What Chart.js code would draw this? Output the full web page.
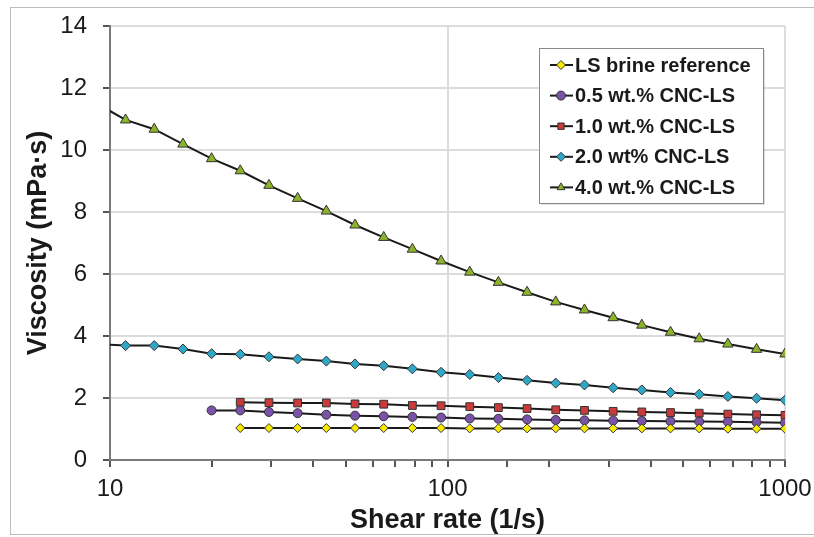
<!DOCTYPE html>
<html>
<head>
<meta charset="utf-8">
<script src="https://cdn.jsdelivr.net/npm/chart.js@4"></script>
<style>
  html, body { margin: 0; padding: 0; background: #fff; }
  #wrap { width: 814px; height: 537px; }
</style>
</head>
<body>
<div id="wrap"><canvas id="viscChart" width="814" height="537"></canvas></div>
<script>
// Shear rate values (1/s), shared by all series
const shearRate = [9.15, 11.12, 13.52, 16.45, 20, 24.32, 29.58, 35.97, 43.75, 53.21, 64.71, 78.69,
  95.7, 116.4, 141.5, 172.1, 209.3, 254.6, 309.6, 376.5, 457.9, 556.9, 677.3, 823.7, 1000];

const brineRef = [null, null, null, null, null, 1.03, 1.03, 1.03, 1.03, 1.03, 1.03, 1.03, 1.03,
  1.02, 1.02, 1.02, 1.02, 1.02, 1.02, 1.02, 1.02, 1.02, 1.01, 1.01, 1.01];
const cnc05 = [null, null, null, null, 1.60, 1.60, 1.55, 1.51, 1.46, 1.43, 1.41, 1.39, 1.37,
  1.34, 1.33, 1.31, 1.29, 1.28, 1.27, 1.26, 1.25, 1.24, 1.23, 1.22, 1.20];
const cnc10 = [null, null, null, null, null, 1.86, 1.85, 1.84, 1.84, 1.81, 1.80, 1.76, 1.75,
  1.72, 1.69, 1.66, 1.62, 1.60, 1.57, 1.55, 1.53, 1.51, 1.48, 1.46, 1.44];
const cnc20 = [3.74, 3.69, 3.69, 3.58, 3.43, 3.41, 3.33, 3.26, 3.19, 3.10, 3.04, 2.94, 2.83,
  2.76, 2.66, 2.57, 2.48, 2.42, 2.33, 2.26, 2.18, 2.12, 2.05, 1.99, 1.93];
const cnc40 = [11.5, 10.97, 10.67, 10.19, 9.72, 9.33, 8.86, 8.44, 8.03, 7.58, 7.18, 6.80, 6.42,
  6.06, 5.73, 5.41, 5.10, 4.84, 4.59, 4.35, 4.12, 3.91, 3.74, 3.57, 3.42];

const seriesLabels = ["LS brine reference", "0.5 wt.% CNC-LS", "1.0 wt.% CNC-LS", "2.0 wt% CNC-LS", "4.0 wt.% CNC-LS"];
const xTickLabels = [10, 100, 1000];

const FONT = "'Liberation Sans', Arial, sans-serif";

function toPoints(values) {
  return shearRate.map((x, i) => ({ x: x, y: values[i] }));
}

function makeSet(label, values, style, fill, radius) {
  return {
    label: label,
    data: toPoints(values),
    borderColor: "#1a1a1a",
    borderWidth: 2,
    pointStyle: style,
    pointRadius: radius,
    pointBackgroundColor: fill,
    pointBorderColor: "#333",
    pointBorderWidth: 1,
    tension: 0,
    spanGaps: false,
  };
}

// Legend box drawn inside the plot like the original figure
const boxLegend = {
  id: "boxLegend",
  afterDraw(chart) {
    const ctx = chart.ctx;
    const left = 539, top = 48, w = 224, h = 155;
    ctx.save();
    ctx.fillStyle = "rgba(0,0,0,0.12)";
    ctx.fillRect(left + 2, top + 2, w, h);
    ctx.fillStyle = "#fff";
    ctx.fillRect(left, top, w, h);
    ctx.strokeStyle = "#8a8a8a";
    ctx.lineWidth = 1;
    ctx.strokeRect(left + 0.5, top + 0.5, w, h);
    chart.data.datasets.forEach((ds, i) => {
      const y = 65 + i * 30.6;
      ctx.strokeStyle = ds.borderColor;
      ctx.lineWidth = 2;
      ctx.beginPath();
      ctx.moveTo(550, y);
      ctx.lineTo(573, y);
      ctx.stroke();
      ctx.fillStyle = ds.pointBackgroundColor;
      ctx.strokeStyle = ds.pointBorderColor;
      ctx.lineWidth = 1;
      Chart.helpers.drawPoint(ctx, {
        pointStyle: ds.pointStyle,
        radius: Math.min(ds.pointRadius, 4.5),
        rotation: 0,
        borderWidth: 1,
      }, 561, y);
      ctx.fillStyle = "#1a1a1a";
      ctx.font = "bold 20px " + FONT;
      ctx.textBaseline = "middle";
      ctx.textAlign = "left";
      ctx.fillText(ds.label, 575, y + 1);
    });
    ctx.restore();
  },
};

// Light frame around the whole figure
const frame = {
  id: "frame",
  beforeDraw(chart) {
    const ctx = chart.ctx;
    ctx.save();
    ctx.strokeStyle = "#bdbdbd";
    ctx.lineWidth = 1;
    ctx.strokeRect(10.5, 7.5, 820, 527);
    ctx.restore();
  },
};

const ctx = document.getElementById("viscChart").getContext("2d");
new Chart(ctx, {
  type: "line",
  data: {
    datasets: [
      makeSet(seriesLabels[0], brineRef, "rectRot", "#f7ea00", 4.5),
      makeSet(seriesLabels[1], cnc05, "circle", "#7a53a8", 4.5),
      makeSet(seriesLabels[2], cnc10, "rect", "#c93b3b", 5.5),
      makeSet(seriesLabels[3], cnc20, "rectRot", "#2ea8c8", 5),
      makeSet(seriesLabels[4], cnc40, "triangle", "#8cb42a", 6),
    ],
  },
  options: {
    responsive: false,
    animation: false,
    layout: { padding: { left: 0, top: 26, right: 29, bottom: 0 } },
    plugins: {
      legend: { display: false },
      tooltip: { enabled: false },
    },
    scales: {
      x: {
        type: "logarithmic",
        min: 10,
        max: 1000,
        afterFit: (scale) => {
          scale.height = 77;
          scale.paddingLeft = 0;
          scale.paddingRight = 0;
        },
        border: { color: "#7a7a7a", width: 2 },
        grid: {
          color: (c) => (c.tick && xTickLabels.includes(c.tick.value) ? "#dcdcdc" : "rgba(0,0,0,0)"),
          lineWidth: 2,
          tickColor: "#555",
          tickLength: 7,
        },
        ticks: {
          autoSkip: false,
          maxRotation: 0,
          padding: 8,
          color: "#1a1a1a",
          font: { family: FONT, size: 24 },
          callback: (v) => (xTickLabels.includes(v) ? String(v) : ""),
        },
        title: {
          display: true,
          text: "Shear rate (1/s)",
          color: "#1a1a1a",
          font: { family: FONT, size: 27, weight: "bold" },
          padding: { top: 2, bottom: 0 },
        },
      },
      y: {
        min: 0,
        max: 14,
        afterFit: (scale) => {
          scale.width = 110;
          scale.paddingTop = 0;
          scale.paddingBottom = 0;
        },
        border: { color: "#7a7a7a", width: 2 },
        grid: {
          color: "#dcdcdc",
          lineWidth: 2,
          tickColor: "#555",
          tickLength: 7,
        },
        ticks: {
          stepSize: 2,
          padding: 16,
          color: "#1a1a1a",
          font: { family: FONT, size: 24 },
        },
        title: {
          display: true,
          text: "Viscosity (mPa·s)",
          color: "#1a1a1a",
          font: { family: FONT, size: 27, weight: "bold" },
          padding: { top: 22, bottom: 0 },
        },
      },
    },
  },
  plugins: [frame, boxLegend],
});
</script>
</body>
</html>
